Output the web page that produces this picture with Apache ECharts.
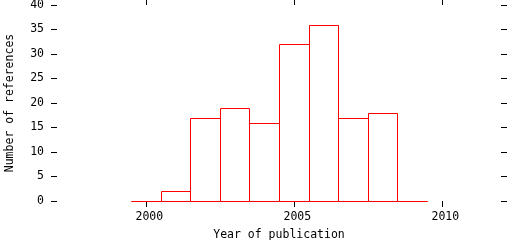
<!DOCTYPE html>
<html><head><meta charset="utf-8">
<script src="https://cdn.jsdelivr.net/npm/echarts@6/dist/echarts.min.js"></script>
<style>html,body{margin:0;padding:0;background:#fff}#c{width:512px;height:240px}</style>
</head><body><div id="c"></div>
<script>
var years = [2000, 2001, 2002, 2003, 2004, 2005, 2006, 2007, 2008, 2009];
var counts = [0, 2, 17, 19, 16, 32, 36, 17, 18, 0];
var xTicks = [2000, 2005, 2010];
var yTicks = [0, 5, 10, 15, 20, 25, 30, 35, 40];
var xTitle = 'Year of publication';
var yTitle = 'Number of references';

var FONT = 'DejaVu Sans Mono';
var chart = echarts.init(document.getElementById('c'), null, {renderer: 'canvas'});
var data = years.map(function (y, i) { return [y, counts[i]]; });
function tickStyle(len) { return {show: true, length: len, inside: false, lineStyle: {color: '#000', width: 1}}; }
function noLine() { return {show: false, onZero: false}; }
function px(v) { return Math.round(v) + 0.5; }
function plain(v) { return String(v); }
chart.setOption({
  animation: false,
  backgroundColor: '#fff',
  grid: {left: 57, right: 11, top: 5, bottom: 39, containLabel: false, outerBoundsMode: 'none'},
  xAxis: [{
    type: 'value', min: 1997, max: 2012, position: 'bottom',
    splitLine: {show: false}, axisLine: noLine(),
    axisTick: Object.assign({customValues: xTicks}, tickStyle(6)),
    axisLabel: {customValues: xTicks, formatter: plain, margin: 10, color: '#000', fontFamily: FONT, fontSize: 11.5, padding: [0, 0, 0, 7]},
    name: xTitle, nameLocation: 'middle', nameGap: 28,
    nameTextStyle: {color: '#000', fontFamily: FONT, fontSize: 11.5}
  }, {
    type: 'value', min: 1997, max: 2012, position: 'top',
    splitLine: {show: false}, axisLine: noLine(),
    axisTick: Object.assign({customValues: xTicks}, tickStyle(6)),
    axisLabel: {show: false}
  }],
  yAxis: [{
    type: 'value', min: 0, max: 40, interval: 5, position: 'left',
    splitLine: {show: false}, axisLine: noLine(),
    axisTick: tickStyle(6),
    axisLabel: {margin: 13, formatter: plain, color: '#000', fontFamily: FONT, fontSize: 11.5},
    name: yTitle, nameLocation: 'middle', nameGap: 41,
    nameTextStyle: {color: '#000', fontFamily: FONT, fontSize: 11.5}
  }, {
    type: 'value', min: 0, max: 40, interval: 5, position: 'right',
    splitLine: {show: false}, axisLine: noLine(),
    axisTick: tickStyle(6), axisLabel: {show: false}
  }],
  series: [{
    type: 'custom',
    data: data,
    renderItem: function (params, api) {
      var y = api.value(0), v = api.value(1);
      var p0 = api.coord([y - 0.5, v]);
      var p1 = api.coord([y + 0.5, 0]);
      var x0 = px(p0[0]), x1 = px(p1[0]), y0 = px(p0[1]), y1 = px(p1[1]);
      return {
        type: 'rect',
        shape: {x: x0, y: y0, width: x1 - x0, height: y1 - y0},
        style: {fill: 'none', stroke: '#ff0000', lineWidth: 1}
      };
    }
  }]
});
</script></body></html>
